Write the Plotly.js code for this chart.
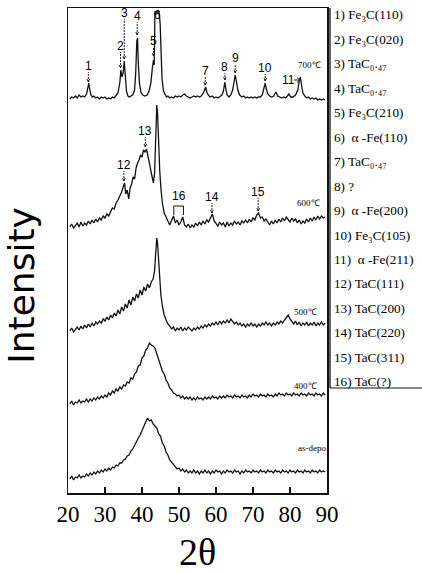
<!DOCTYPE html>
<html>
<head>
<meta charset="utf-8">
<script src="https://cdn.plot.ly/plotly-3.0.1.min.js"></script>
<style>html,body{margin:0;padding:0;background:#fff;}#chart{width:422px;height:573px;}</style>
</head>
<body>
<div id="chart"></div>
<script>
// ---- data (2θ in degrees, intensity in arbitrary stacked units) ----
const x700 = [20.5,21.0,21.5,22.0,22.5,23.0,23.5,24.0,24.5,25.0,25.3,25.6,25.9,26.2,26.6,27.0,27.5,28.0,28.5,29.0,29.5,30.0,30.5,31.0,31.5,32.0,32.5,33.0,33.5,34.0,34.3,34.6,34.9,35.2,35.5,35.8,36.2,36.6,37.0,37.5,38.0,38.3,38.6,38.8,39.0,39.3,39.7,40.2,40.8,41.4,41.9,42.4,42.8,43.1,43.3,43.5,43.8,44.2,44.6,44.9,45.1,45.4,45.8,46.2,46.6,47.0,47.5,48.0,48.5,49.0,49.5,50.0,50.5,51.0,51.5,52.0,52.5,53.0,53.5,54.0,54.5,55.0,55.5,56.0,56.6,57.0,57.2,57.5,57.9,58.4,59.0,59.5,60.0,60.5,61.0,61.6,62.0,62.4,62.7,63.0,63.5,64.0,64.5,64.9,65.2,65.5,65.9,66.4,67.0,67.5,68.0,68.5,69.0,69.5,70.0,70.5,71.0,71.5,72.0,72.5,73.0,73.3,73.6,74.0,74.5,75.0,75.6,76.2,76.7,77.2,77.8,78.3,78.8,79.3,79.7,80.2,80.8,81.5,82.1,82.5,82.8,83.1,83.5,84.0,84.5,85.0,85.5,86.0,86.5,87.0,87.5,88.0,88.5,89.0,89.5];
const y700 = [394,396,395,397,395,398,396,397,396,399,404,410,403,398,396,397,395,396,394,396,395,396,394,395,394,396,395,397,400,410,423,416,420,432,418,402,397,396,397,398,403,420,452,455,430,410,401,398,397,398,402,410,425,433,428,481,481,481,481,470,440,415,402,398,396,397,395,396,395,397,396,397,396,398,399,397,396,395,396,397,396,397,396,397,400,404,406,401,398,396,397,395,396,395,396,398,402,411,403,398,396,398,403,412,418,412,403,398,396,397,395,396,395,396,395,396,395,396,396,398,404,410,404,399,397,396,397,401,397,396,395,396,395,397,399,396,396,398,403,412,416,408,400,397,395,396,394,395,394,395,393,394,393,394,393];

const x600 = [20.5,21.0,21.5,22.0,22.5,23.0,23.5,24.0,24.5,25.0,25.5,26.0,26.5,27.0,27.5,28.0,28.5,29.0,29.5,30.0,30.5,31.0,31.5,32.0,32.5,33.0,33.5,34.0,34.5,35.0,35.3,35.6,36.0,36.4,36.8,37.2,37.6,38.0,38.4,38.8,39.2,39.6,40.0,40.4,40.8,41.2,41.6,42.0,42.4,42.8,43.1,43.4,43.7,44.0,44.2,44.5,44.8,45.1,45.5,46.0,46.5,47.0,47.5,48.0,48.5,49.0,49.5,50.0,50.5,51.0,51.5,52.0,52.5,53.0,53.5,54.0,54.5,55.0,55.5,56.0,56.5,57.0,57.5,58.0,58.5,59.0,59.5,60.0,60.5,61.0,61.5,62.0,62.5,63.0,63.5,64.0,64.5,65.0,65.5,66.0,66.5,67.0,67.5,68.0,68.5,69.0,69.5,70.0,70.5,71.0,71.5,72.0,72.5,73.0,73.5,74.0,74.5,75.0,75.5,76.0,76.5,77.0,77.5,78.0,78.5,79.0,79.5,80.0,80.5,81.0,81.5,82.0,82.5,83.0,83.5,84.0,84.5,85.0,85.5,86.0,86.5,87.0,87.5,88.0,88.5,89.0,89.5];
const y600 = [266,269,265,268,270,266,271,267,270,268,272,269,273,270,274,271,275,273,277,275,279,277,282,285,284,290,293,297,301,307,310,299,303,294,305,309,316,314,325,330,333,338,336,343,341,344,338,330,322,314,310,320,355,388,380,345,322,305,290,280,275,272,268,272,277,270,273,268,271,276,268,266,269,265,268,266,270,267,271,268,272,269,273,271,276,279,272,270,267,271,268,270,266,271,267,270,268,272,269,271,268,272,270,273,270,274,271,275,273,278,280,275,276,272,274,271,268,272,269,273,270,274,271,275,272,276,273,271,275,272,274,270,273,269,272,270,274,271,275,272,276,273,277,274,277,275,276];

const x500 = [20.5,21.0,21.5,22.0,22.5,23.0,23.5,24.0,24.5,25.0,25.5,26.0,26.5,27.0,27.5,28.0,28.5,29.0,29.5,30.0,30.5,31.0,31.5,32.0,32.5,33.0,33.5,34.0,34.5,35.0,35.5,36.0,36.5,37.0,37.5,38.0,38.5,39.0,39.5,40.0,40.5,41.0,41.5,42.0,42.5,43.0,43.4,43.7,44.0,44.2,44.5,44.8,45.1,45.5,46.0,46.5,47.0,47.5,48.0,48.5,49.0,49.5,50.0,50.5,51.0,51.5,52.0,52.5,53.0,53.5,54.0,54.5,55.0,55.5,56.0,56.5,57.0,57.5,58.0,58.5,59.0,59.5,60.0,60.5,61.0,61.5,62.0,62.5,63.0,63.5,64.0,64.5,65.0,65.5,66.0,66.5,67.0,67.5,68.0,68.5,69.0,69.5,70.0,70.5,71.0,71.5,72.0,72.5,73.0,73.5,74.0,74.5,75.0,75.5,76.0,76.5,77.0,77.5,78.0,78.5,79.0,79.5,80.0,80.5,81.0,81.5,82.0,82.5,83.0,83.5,84.0,84.5,85.0,85.5,86.0,86.5,87.0,87.5,88.0,88.5,89.0,89.5];
const y500 = [162,165,161,164,166,163,167,164,168,165,169,166,170,167,171,169,172,170,174,172,176,173,178,175,180,177,183,179,186,182,189,185,193,188,196,192,199,195,203,198,206,202,209,205,211,214,222,240,255,250,232,214,198,187,178,173,169,167,164,166,162,165,163,166,162,165,163,166,164,162,165,163,166,164,167,165,168,166,169,167,170,168,171,168,172,169,172,170,173,170,174,172,169,171,168,170,167,169,166,169,167,170,167,169,166,169,167,170,168,171,168,170,167,170,168,171,169,172,170,173,175,178,174,171,169,172,168,171,167,170,168,171,167,170,168,171,167,170,168,171,168,170];

const xBroad = [20.5,21.0,21.5,22.0,22.5,23.0,23.5,24.0,24.5,25.0,25.5,26.0,26.5,27.0,27.5,28.0,28.5,29.0,29.5,30.0,30.5,31.0,31.5,32.0,32.5,33.0,33.5,34.0,34.5,35.0,35.5,36.0,36.5,37.0,37.5,38.0,38.5,39.0,39.5,40.0,40.5,41.0,41.5,42.0,42.5,43.0,43.5,44.0,44.5,45.0,45.5,46.0,46.5,47.0,47.5,48.0,48.5,49.0,49.5,50.0,50.5,51.0,51.5,52.0,52.5,53.0,53.5,54.0,54.5,55.0,55.5,56.0,56.5,57.0,57.5,58.0,58.5,59.0,59.5,60.0,60.5,61.0,61.5,62.0,62.5,63.0,63.5,64.0,64.5,65.0,65.5,66.0,66.5,67.0,67.5,68.0,68.5,69.0,69.5,70.0,70.5,71.0,71.5,72.0,72.5,73.0,73.5,74.0,74.5,75.0,75.5,76.0,76.5,77.0,77.5,78.0,78.5,79.0,79.5,80.0,80.5,81.0,81.5,82.0,82.5,83.0,83.5,84.0,84.5,85.0,85.5,86.0,86.5,87.0,87.5,88.0,88.5,89.0,89.5];
const y400 = [89,92,88,91,90,93,90,92,91,94,91,94,92,95,93,96,94,97,95,98,96,100,98,102,100,104,102,106,104,108,107,111,110,115,114,119,121,127,128,135,137,143,145,150,148,147,145,139,134,129,122,119,113,110,105,103,100,99,97,98,95,97,94,96,94,96,93,95,93,96,94,95,93,96,94,96,94,97,95,96,94,97,95,97,95,98,96,97,95,98,96,97,95,98,96,97,95,98,96,99,97,98,96,99,97,98,96,99,97,98,96,99,97,100,98,99,97,100,98,99,97,100,98,99,97,100,98,99,97,100,98,99,97,100,98,99,97,100,98];
const yAsDepo = [14,17,13,16,15,18,15,17,16,19,17,20,18,21,19,22,20,23,21,24,22,25,23,26,25,28,27,30,30,33,34,37,38,42,44,48,51,55,58,63,66,71,75,72,73,69,67,65,59,57,50,47,41,38,33,31,28,27,24,25,22,24,21,23,20,22,20,23,20,22,19,22,20,23,20,22,19,22,20,23,21,22,19,22,20,23,21,22,20,23,21,22,19,22,20,23,21,22,20,23,21,22,20,23,21,22,20,23,21,22,20,23,21,22,20,23,21,22,20,23,21,22,20,23,21,22,20,23,21,22,20,23,21,22,20,23,21,22,21];

const tickVals = [20,30,40,50,60,70,80,90];
const tickText = ['20','30','40','50','60','70','80','90'];

const tempLabels = ['700℃','600℃','500℃','400℃','as-depo.'];
const tempX = [85.4,84.9,84.1,84.3,86.2];
const tempY = [428,290,181,107,45];

// peak labels: text, 2θ, intensity at arrow tip, label height above tip
const peakText = ['1','2','3','4','5','7','8','9','10','12','13','14','15'];
const peakX    = [25.5,34.2,35.2,38.7,43.1,57.1,62.4,65.2,73.3,35.1,40.9,58.9,71.4];
const peakY    = [411,425,434,458,437,408,413,420,412,312,346,280,282];
const peakRise = [16,22,46,19,15,14,13,15,13,16,16,16,19];

const legendItems = [
  '1) Fe₃C(110)','2) Fe₃C(020)','3) TaC₀.₄₇','4) TaC₀.₄₇',
  '5) Fe₃C(210)','6)  α -Fe(110)','7) TaC₀.₄₇','8) ?',
  '9)  α -Fe(200)','10) Fe₃C(105)','11)  α -Fe(211)','12) TaC(111)',
  '13) TaC(200)','14) TaC(220)','15) TaC(311)','16) TaC(?)'
];

// ---- build ----
const lineStyle = {color:'#111', width:1.3};
const traces = [
  {x:x700, y:y700, name:'700℃'},
  {x:x600, y:y600, name:'600℃'},
  {x:x500, y:y500, name:'500℃'},
  {x:xBroad, y:y400, name:'400℃'},
  {x:xBroad, y:yAsDepo, name:'as-depo.'}
].map(t => Object.assign(t, {type:'scatter', mode:'lines', line:lineStyle, hoverinfo:'skip'}));

const numFont = {family:'Liberation Sans, Arial, sans-serif', size:12, color:'#000'};
const arrowLine = {color:'#222', width:1, dash:'2px,1px'};
const annotations = [];
const shapes = [];
peakText.forEach((t,i) => {
  annotations.push({x:peakX[i], y:peakY[i] + peakRise[i], xref:'x', yref:'y', text:t,
    showarrow:false, font:numFont});
  shapes.push({type:'line', xref:'x', yref:'y', x0:peakX[i], x1:peakX[i],
    y0:peakY[i], y1:peakY[i] + peakRise[i] - 6, line:arrowLine});
  shapes.push({type:'path', xref:'x', yref:'y',
    path:`M ${peakX[i]-0.35} ${peakY[i]+3} L ${peakX[i]} ${peakY[i]} L ${peakX[i]+0.35} ${peakY[i]+3}`,
    line:{color:'#222', width:1}});
});
annotations.push({x:44.3, y:478, xref:'x', yref:'y', text:'6', showarrow:false, font:numFont});
annotations.push({x:79.6, y:413, xref:'x', yref:'y', text:'11', showarrow:false, font:numFont});
shapes.push({type:'line', xref:'x', yref:'y', x0:81.0, x1:82.6, y0:413, y1:413, line:{color:'#222', width:1}});
shapes.push({type:'path', xref:'x', yref:'y', path:'M 81.9 415.5 L 82.6 413 L 81.9 410.5', line:{color:'#222', width:1}});
annotations.push({x:49.9, y:297, xref:'x', yref:'y', text:'16', showarrow:false, font:numFont});
shapes.push({type:'path', xref:'x', yref:'y', path:'M 48.6 278 L 48.6 287 L 51.2 287 L 51.2 278', line:{color:'#111', width:1}});

tempLabels.forEach((t,i) => annotations.push({
  x:tempX[i], y:tempY[i], xref:'x', yref:'y', text:t, showarrow:false,
  font:{family:'Liberation Serif, serif', size:9, color:'#000'}
}));

legendItems.forEach((t,i) => annotations.push({
  x:1.021, y:1 - (7 + i*24.45)/485, xref:'paper', yref:'paper', xanchor:'left', yanchor:'middle',
  text:t, showarrow:false, font:{family:'Liberation Serif, DejaVu Serif, serif', size:13.2, color:'#000'}
}));

annotations.push({x:-0.178, y:0.429, xref:'paper', yref:'paper', text:'Intensity', textangle:-90,
  showarrow:false, xanchor:'center', yanchor:'middle',
  font:{family:'DejaVu Sans, sans-serif', size:36, color:'#000'}});

shapes.push({type:'line', xref:'paper', yref:'paper', x0:1.0116, x1:1.0116, y0:0.2165, y1:1, line:{color:'#111', width:1.3}});
shapes.push({type:'line', xref:'paper', yref:'paper', x0:1.0116, x1:1.37, y0:0.2165, y1:0.2165, line:{color:'#111', width:1}});

const layout = {
  width:422, height:573,
  margin:{l:68, r:95, t:8, b:80},
  paper_bgcolor:'#fff', plot_bgcolor:'#fff',
  showlegend:false,
  xaxis:{
    range:[20,90], tickvals:tickVals, ticktext:tickText,
    ticks:'inside', ticklen:6, tickwidth:1.2, tickcolor:'#111',
    showline:true, mirror:true, linecolor:'#111', linewidth:1.5,
    showgrid:false, zeroline:false,
    tickfont:{family:'Liberation Serif, serif', size:23, color:'#000'},
    title:{text:'2θ', font:{family:'Liberation Serif, serif', size:38, color:'#000'}, standoff:14}
  },
  yaxis:{
    range:[0,485], showticklabels:false, ticks:'',
    showline:true, mirror:true, linecolor:'#111', linewidth:1.5,
    showgrid:false, zeroline:false
  },
  annotations:annotations,
  shapes:shapes
};

Plotly.newPlot('chart', traces, layout, {displayModeBar:false, staticPlot:true});
</script>
</body>
</html>
